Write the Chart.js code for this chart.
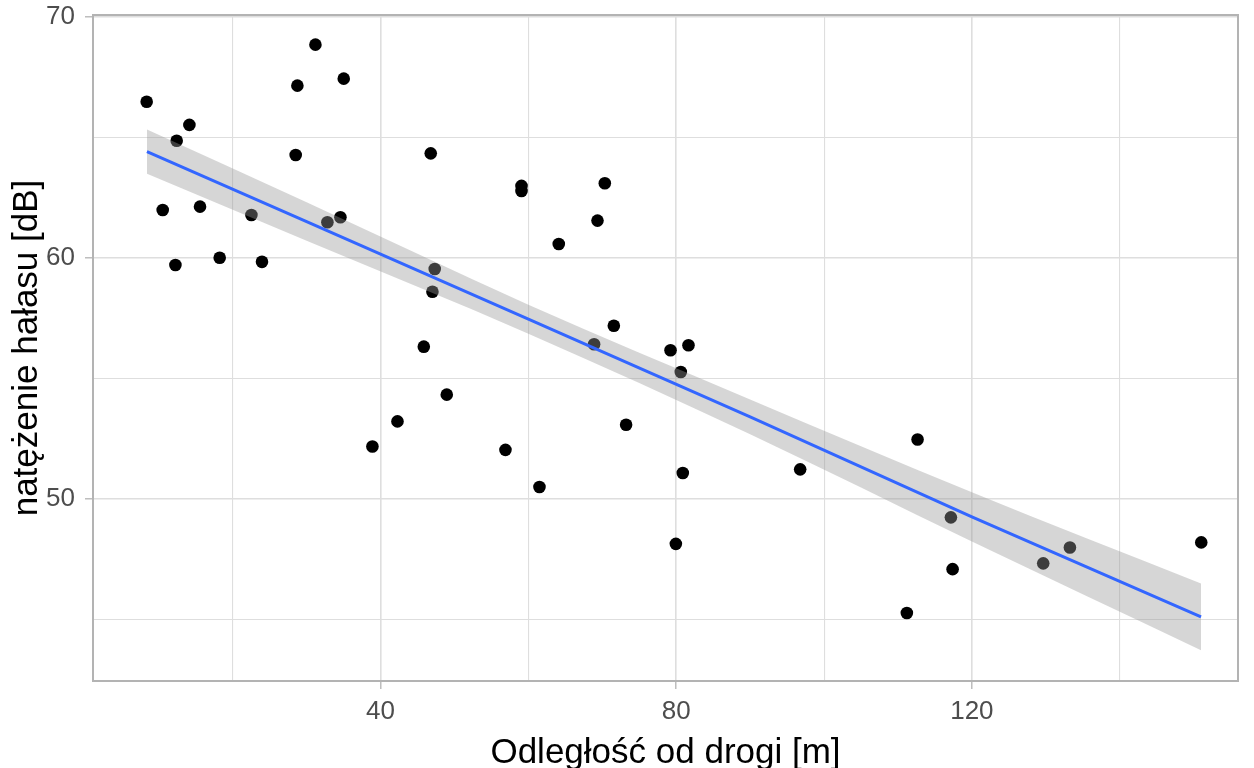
<!DOCTYPE html>
<html>
<head>
<meta charset="utf-8">
<script src="https://cdn.jsdelivr.net/npm/chart.js@4"></script>
<style>
	html, body { margin: 0; padding: 0; background: #fff; }
	#chart { display: block; }
</style>
</head>
<body>
<canvas id="chart" width="1254" height="768"></canvas>
<script>
// measurements: distance from the road [m] and noise level [dB]
const distance = [8.36, 14.14, 12.42, 10.53, 15.58, 22.53, 12.25, 18.24, 23.96, 31.19,
	28.75, 35.02, 28.52, 32.81, 34.57, 46.79, 47.33, 47.02, 45.85, 48.96,
	38.90, 42.29, 56.90, 61.50, 59.07, 59.07, 64.11, 69.35, 70.34, 71.56,
	68.89, 73.22, 79.23, 81.66, 80.62, 80.89, 79.95, 96.77, 112.65, 117.16,
	117.39, 111.20, 133.26, 129.65, 151.03];
const noise = [66.47, 65.51, 64.85, 61.98, 62.12, 61.77, 59.70, 60.00, 59.83, 68.84,
	67.14, 67.43, 64.26, 61.47, 61.68, 64.33, 59.53, 58.59, 56.31, 54.32,
	52.17, 53.21, 52.03, 50.49, 62.98, 62.77, 60.57, 61.54, 63.09, 57.18,
	56.41, 53.07, 56.16, 56.37, 55.26, 51.07, 48.13, 51.22, 52.46, 49.23,
	47.08, 45.26, 47.98, 47.32, 48.19];

// fitted line and its confidence band
const fitX = [8.4, 30, 60, 90, 120, 151];
const fitY = [64.4, 61.5, 57.45, 53.4, 49.25, 45.1];
const fitLow = [63.48, 60.7, 56.85, 52.68, 48.23, 43.72];
const fitHigh = [65.32, 62.3, 58.05, 54.12, 50.27, 46.48];

const xTicks = [20, 40, 60, 80, 100, 120, 140];
const xLabels = [40, 80, 120];
const yTicks = [45, 50, 55, 60, 65, 70];
const yLabels = [50, 60, 70];

const fontFamily = '"Liberation Sans", Arial, sans-serif';
const toPoints = (xs, ys) => xs.map((x, i) => ({x, y: ys[i]}));

const panelBorder = {
	id: 'panelBorder',
	afterDraw: chart => {
		const {ctx, chartArea: a} = chart;
		ctx.save();
		ctx.strokeStyle = '#b3b3b3';
		ctx.lineWidth = 2;
		ctx.strokeRect(a.left, a.top, a.right - a.left, a.bottom - a.top);
		ctx.restore();
	}
};

const axisStyle = (ticks, labels) => ({
	afterBuildTicks: scale => {
		scale.ticks = ticks.map(v => ({value: v}));
	},
	border: {display: false},
	grid: {
		color: '#dedede',
		lineWidth: ctx => labels.includes(ctx.tick && ctx.tick.value) ? 1.6 : 1.1,
		tickLength: 8,
		tickWidth: 1.3,
		tickColor: ctx => labels.includes(ctx.tick && ctx.tick.value) ? '#b3b3b3' : 'rgba(0,0,0,0)'
	},
	ticks: {
		color: '#4d4d4d',
		font: {family: fontFamily, size: 26},
		maxRotation: 0,
		autoSkip: false,
		callback: value => labels.includes(value) ? String(value) : ''
	}
});

const xAxis = axisStyle(xTicks, xLabels);
xAxis.min = 1.1;
xAxis.max = 156.0;
xAxis.ticks.padding = 7;
xAxis.afterFit = scale => {
	scale.height = 87;
	scale.paddingLeft = 0;
	scale.paddingRight = 0;
};
xAxis.title = {
	display: true,
	text: 'Odległość od drogi [m]',
	color: '#000',
	font: {family: fontFamily, size: 35, lineHeight: 0.85},
	padding: 0
};

const yAxis = axisStyle(yTicks, yLabels);
yAxis.min = 42.44;
yAxis.max = 70.07;
yAxis.ticks.padding = 10;
yAxis.afterFit = scale => {
	scale.width = 93;
	scale.paddingTop = 0;
	scale.paddingBottom = 0;
};
yAxis.title = {
	display: true,
	text: 'natężenie hałasu [dB]',
	color: '#000',
	font: {family: fontFamily, size: 35, lineHeight: 1.2},
	padding: {top: 6, bottom: 0}
};

new Chart(document.getElementById('chart'), {
	type: 'scatter',
	data: {
		datasets: [{
			label: 'pomiary',
			data: toPoints(distance, noise),
			pointRadius: 6.3,
			pointBackgroundColor: '#000',
			pointBorderWidth: 0,
			order: 3
		}, {
			label: 'przedział ufności',
			data: toPoints(fitX, fitHigh),
			showLine: true,
			cubicInterpolationMode: 'monotone',
			borderColor: 'rgba(0,0,0,0)',
			borderWidth: 0,
			pointRadius: 0,
			fill: 2,
			backgroundColor: 'rgba(153,153,153,0.4)',
			order: 2
		}, {
			label: 'dolna granica',
			data: toPoints(fitX, fitLow),
			showLine: true,
			cubicInterpolationMode: 'monotone',
			borderColor: 'rgba(0,0,0,0)',
			borderWidth: 0,
			pointRadius: 0,
			fill: false,
			order: 2
		}, {
			label: 'regresja',
			data: toPoints(fitX, fitY),
			showLine: true,
			borderColor: '#3366ff',
			borderWidth: 3,
			pointRadius: 0,
			fill: false,
			order: 1
		}]
	},
	options: {
		responsive: false,
		animation: false,
		devicePixelRatio: 1,
		layout: {padding: {top: 15, right: 16, left: 0, bottom: 0}},
		plugins: {
			legend: {display: false},
			tooltip: {enabled: false}
		},
		scales: {
			x: xAxis,
			y: yAxis
		}
	},
	plugins: [panelBorder]
});
</script>
</body>
</html>
